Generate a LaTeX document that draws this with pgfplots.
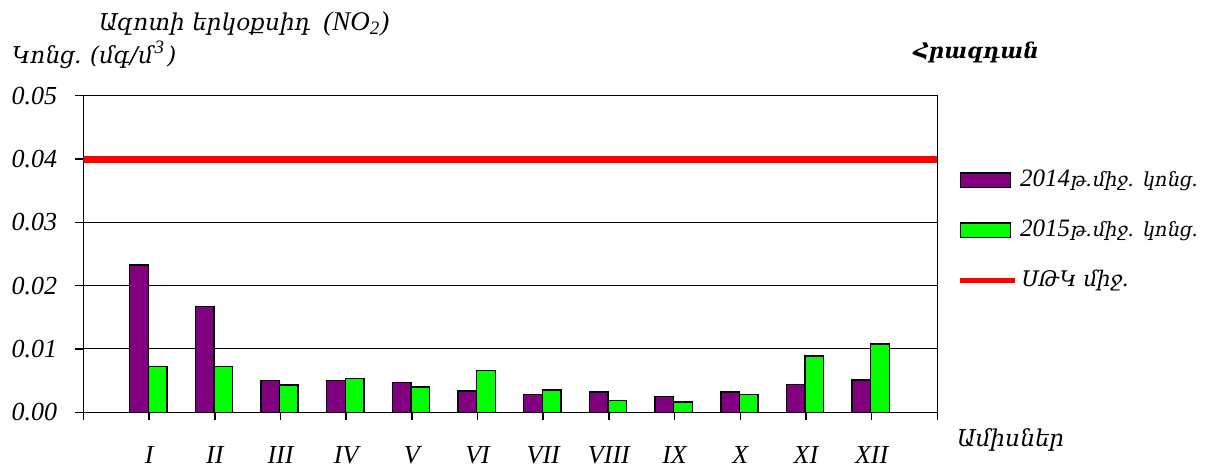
\documentclass[border=0pt]{standalone}
\usepackage{fontspec}
\setmainfont{Liberation Serif}
\newfontfamily\arm{DejaVu Serif}[Scale=0.86, FakeSlant=0.2,
  ItalicFont=DejaVu Serif, BoldItalicFont=DejaVu Serif Bold]
\usepackage{pgfplots}
\pgfplotsset{compat=1.18}
\definecolor{barpurple}{RGB}{128,0,128}
\definecolor{bargreen}{RGB}{0,255,0}
\definecolor{limred}{RGB}{255,0,0}
\newcommand{\fs}{\fontsize{12.5}{15}\selectfont}
\newcommand{\fst}{\fontsize{13}{15}\selectfont}
\newcommand{\fsl}{\fontsize{11.3}{13}\selectfont}
\newcommand{\fsh}{\fontsize{13.5}{16}\selectfont}
\begin{document}
\begin{tikzpicture}
\path[use as bounding box] (0,0) rectangle (603pt,234pt);
\begin{axis}[
  at={(41.75pt,27.85pt)}, anchor=south west,
  scale only axis, width=426.9pt, height=158.3pt,
  xmin=0, xmax=13, ymin=0, ymax=0.05,
  xtick={0,1,2,3,4,5,6,7,8,9,10,11,12,13},
  xticklabels={,I,II,III,IV,V,VI,VII,VIII,IX,X,XI,XII,},
  ytick={0,0.01,0.02,0.03,0.04,0.05},
  tick pos=left, tick align=outside, major tick length=4pt,
  ymajorgrids, grid style={black, line width=0.5pt},
  axis line style={line width=0.75pt},
  tick style={black, line width=0.75pt},
  scaled y ticks=false,
  /pgf/number format/fixed, /pgf/number format/fixed zerofill,
  /pgf/number format/precision=2, /pgf/number format/assume math mode=true,
  ticklabel style={font=\fst\itshape},
  xticklabel style={anchor=north, inner sep=0pt, yshift=-13pt},
  yticklabel style={anchor=east, inner sep=0pt, xshift=-9pt},
  legend style={at={(1.0231,0.772)}, anchor=north west, draw=none, fill=none,
    inner sep=0pt, row sep=13pt, column sep=1.5pt, font=\fs\itshape,
    nodes={inner sep=0pt, text height=9pt, text depth=3pt}},
  legend cell align=left,
]
\addplot[ybar, bar width=9.3pt, bar shift=-5.1pt, fill=barpurple, draw=black, line width=0.75pt,
  legend image code/.code={\draw[fill=barpurple, draw=black, line width=0.75pt] (0pt,-3.65pt) rectangle (25pt,3.65pt);}]
  coordinates {(1,0.0233) (2,0.0167) (3,0.0050) (4,0.0050) (5,0.0047) (6,0.0034)
               (7,0.0028) (8,0.0032) (9,0.0025) (10,0.0032) (11,0.0044) (12,0.0051)};
\addlegendentry{2014{\arm\fsl թ.միջ. կոնց.}}
\addplot[ybar, bar width=9.3pt, bar shift=4.2pt, fill=bargreen, draw=black, line width=0.75pt,
  legend image code/.code={\draw[fill=bargreen, draw=black, line width=0.75pt] (0pt,-3.65pt) rectangle (25pt,3.65pt);}]
  coordinates {(1,0.0072) (2,0.0072) (3,0.0043) (4,0.0053) (5,0.0040) (6,0.0066)
               (7,0.0035) (8,0.0019) (9,0.0016) (10,0.0028) (11,0.0089) (12,0.0108)};
\addlegendentry{2015{\arm\fsl թ.միջ. կոնց.}}
\addplot[limred, line width=3.5pt, sharp plot, mark=none,
  legend image code/.code={\draw[limred, line width=2.3pt] (-0.5pt,0pt) -- (27pt,0pt);}]
  coordinates {(0,0.04) (13,0.04)};
\addlegendentry{{\arm\fs ՍԹԿ միջ.}}
\end{axis}
\node[anchor=base west, inner sep=0pt, font=\fsh\itshape] at (48.5pt,219pt) {{\arm Ազոտի երկօքսիդ}\ \ (NO\textsubscript{2})};
\node[anchor=base west, inner sep=0pt, font=\fsh\itshape] at (5pt,202.25pt) {{\arm Կոնց.\ (մգ/մ}\kern1.5pt\textsuperscript{3}\kern0.5pt{\arm )}};
\node[anchor=base west, inner sep=0pt, font=\fs\itshape\bfseries] at (455.8pt,204.8pt) {\arm Հրազդան};
\node[anchor=base west, inner sep=0pt, font=\fsh\itshape] at (477.5pt,10.7pt) {\arm Ամիսներ};
\end{tikzpicture}
\end{document}
